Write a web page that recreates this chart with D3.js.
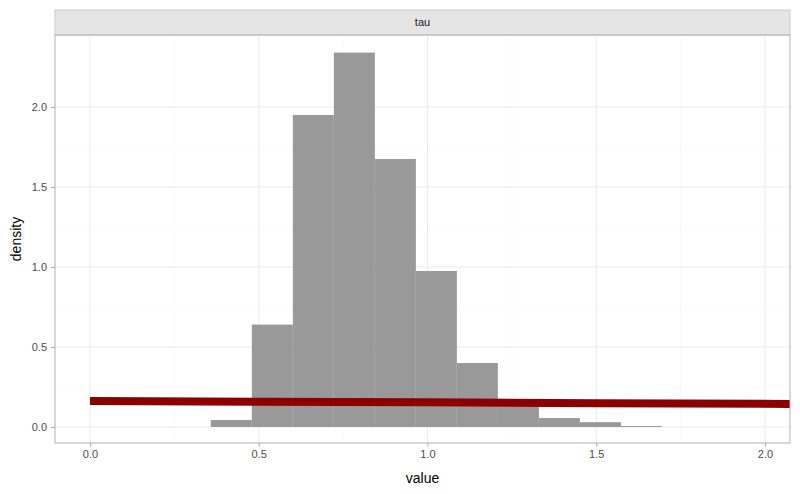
<!DOCTYPE html><html><head><script src="https://cdn.jsdelivr.net/npm/d3@7"></script>
<style>body{margin:0;background:#fff}</style></head><body><svg id="c" width="800" height="494"></svg>
<script>
const binStarts=[0.358,0.4795,0.601,0.7225,0.844,0.9655,1.087,1.2085,1.33,1.4515,1.573];
const binWidth=0.1215;
const densities=[0.044,0.64,1.95,2.34,1.675,0.975,0.40,0.14,0.056,0.03,0.006];
const priorX=[0,0.5,1.0,1.5,2.08];
const priorY=[0.1625,0.158,0.154,0.149,0.144];
const xTicks=[0,0.5,1.0,1.5,2.0];
const yTicks=[0,0.5,1.0,1.5,2.0];
const svg=d3.select("#c");
const L=55,R=790,T=35,B=443;
const x=d3.scaleLinear().domain([0,2]).range([90,765]);
const y=d3.scaleLinear().domain([0,2]).range([427,107]);
svg.append("rect").attr("x",L).attr("y",10).attr("width",R-L).attr("height",25).attr("fill","#e5e5e5").attr("stroke","#cccccc");
svg.append("text").attr("x",(L+R)/2).attr("y",26).attr("text-anchor","middle").attr("font-family","Liberation Sans, Arial").attr("font-size",11).attr("fill","#1a1a1a").text("tau");
const g=svg.append("g");
const minor=[0.25,0.75,1.25,1.75];
minor.forEach(v=>{g.append("line").attr("x1",x(v)).attr("x2",x(v)).attr("y1",T).attr("y2",B).attr("stroke","#f2f2f2").attr("stroke-width",0.5);
g.append("line").attr("x1",L).attr("x2",R).attr("y1",y(v)).attr("y2",y(v)).attr("stroke","#f2f2f2").attr("stroke-width",0.5);});
xTicks.forEach(v=>g.append("line").attr("x1",x(v)).attr("x2",x(v)).attr("y1",T).attr("y2",B).attr("stroke","#ebebeb").attr("stroke-width",1));
yTicks.forEach(v=>g.append("line").attr("x1",L).attr("x2",R).attr("y1",y(v)).attr("y2",y(v)).attr("stroke","#ebebeb").attr("stroke-width",1));
g.selectAll(".bar").data(densities).enter().append("rect").attr("x",(d,i)=>x(binStarts[i])).attr("width",(d,i)=>x(binStarts[i]+binWidth)-x(binStarts[i]))
 .attr("y",d=>y(d)).attr("height",d=>y(0)-y(d)).attr("fill","#999999");
const clip=svg.append("clipPath").attr("id","cp").append("rect").attr("x",L).attr("y",T).attr("width",R-L).attr("height",B-T);
g.append("path").attr("clip-path","url(#cp)").datum(priorX.map((v,i)=>[v,priorY[i]])).attr("d",d3.line().x(d=>x(d[0])).y(d=>y(d[1]))).attr("fill","none").attr("stroke","#8b0000").attr("stroke-width",8);
svg.append("rect").attr("x",L).attr("y",T).attr("width",R-L).attr("height",B-T).attr("fill","none").attr("stroke","#b3b3b3");
const xa=svg.append("g").attr("transform",`translate(0,${B})`).call(d3.axisBottom(x).tickValues(xTicks).tickFormat(d3.format(".1f")).tickSize(4));
const ya=svg.append("g").attr("transform",`translate(${L},0)`).call(d3.axisLeft(y).tickValues(yTicks).tickFormat(d3.format(".1f")).tickSize(4));
[xa,ya].forEach(a=>{a.select(".domain").remove();a.selectAll("line").attr("stroke","#b3b3b3");a.selectAll("text").attr("font-family","Liberation Sans, Arial").attr("font-size",11).attr("fill","#4d4d4d");});
ya.selectAll("text").attr("dx",-1);
svg.append("text").attr("x",(L+R)/2).attr("y",483).attr("text-anchor","middle").attr("font-family","Liberation Sans, Arial").attr("font-size",14).text("value");
svg.append("text").attr("transform",`translate(21,${(T+B)/2}) rotate(-90)`).attr("text-anchor","middle").attr("font-family","Liberation Sans, Arial").attr("font-size",14).text("density");
</script></body></html>
